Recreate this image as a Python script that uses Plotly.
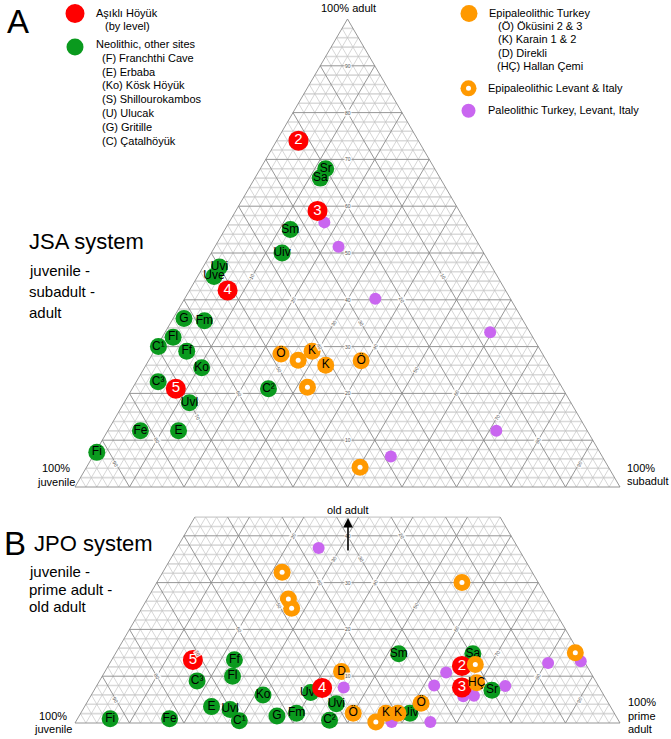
import plotly.graph_objects as go

W, H = 671, 739
FONT = "Liberation Sans, Arial, sans-serif"

RED = "#ff0000"
GREEN = "#0a9a1e"
ORANGE = "#ff9900"
PURPLE = "#c966f0"

# ---------------- Panel A : JSA (juvenile, subadult, adult %) ----------------
A_red_lab = ["2", "3", "4", "5"]
A_red_juv = [22, 26, 51, 71]
A_red_sub = [4, 15, 7, 8]
A_red_adu = [74, 59, 42, 21]

A_grn_lab = ["Sr", "Sa", "Sm", "Uiv", "Uvi", "Uve", "G", "Fm", "Fl", "C¹",
             "Ff", "Ko", "C³", "C²", "Uvl", "Fe", "E", "Fi"]
A_grn_juv = [20, 22, 33, 37, 50, 52, 62, 58.5, 66, 69.7, 65, 64, 73.5, 54, 70, 82, 75, 92.3]
A_grn_sub = [12, 12, 12, 13, 3, 3, 2, 6, 2, 0.3, 6, 10.5, 4, 25, 12, 6, 13, 0.3]
A_grn_adu = [68, 66, 55, 50, 47, 45, 36, 35.5, 32, 30, 29, 25.5, 22.5, 21, 18, 12, 12, 7.4]

A_org_lab = ["Ö", "K", "K", "Ö"]
A_org_juv = [48, 42, 41, 34]
A_org_sub = [23.6, 29, 33, 39]
A_org_adu = [28.4, 29, 26, 27]

A_ring_juv = [45.5, 46.7, 45.6]
A_ring_sub = [27.4, 32, 50.2]
A_ring_adu = [27.1, 21.3, 4.2]

A_pur_juv = [26, 26, 24.8, 7.3, 16.7, 38.8]
A_pur_sub = [17.5, 22.7, 35, 59.7, 71.3, 54.7]
A_pur_adu = [56.6, 51.4, 40.2, 33.1, 12, 6.5]

# ---------------- Panel B : JPO (juvenile, prime adult, old adult %) ----------------
B_red_lab = ["5", "4", "2", "3"]
B_red_juv = [71.7, 50.9, 22.9, 25.2]
B_red_pri = [14.9, 41.6, 64.9, 67.2]
B_red_old = [13.5, 7.5, 12.2, 7.6]

B_grn_lab = ["Ff", "Fl", "C³", "Ko", "Uve", "E", "Uvl", "C¹", "G", "Fm",
             "Fi", "Fe", "C²", "Uvi", "Uiv", "Sm", "Sa", "Sr"]
B_grn_juv = [64, 66.1, 73.1, 62.5, 53.5, 73.2, 70.1, 69.6, 62.2, 58.3, 93.1, 82.2, 53, 50, 37.5, 33.2, 19.6, 20]
B_grn_pri = [22.5, 23.9, 17.9, 31.5, 40, 23.3, 27, 29.9, 36.3, 39.6, 6, 16.9, 46.4, 45.9, 60.4, 52, 65.6, 73]
B_grn_old = [13.5, 10, 9, 6, 6.5, 3.5, 2.9, 0.5, 1.5, 2.1, 0.9, 0.9, 0.6, 4.1, 2.1, 14.8, 14.8, 7]

B_org_lab = ["D", "Ö", "K", "K", "Ö", "HÇ"]
B_org_juv = [45.6, 47.9, 41.9, 39.7, 34.4, 22]
B_org_pri = [43.4, 50, 56, 58.2, 61.4, 69.4]
B_org_old = [11, 2.1, 2.1, 2.1, 4.2, 8.6]

B_ring_juv = [45.9, 47.6, 48, 14, 20.3, 0.7, 44.7]
B_ring_pri = [21.9, 25.9, 27.5, 56, 67.2, 84.3, 55.1]
B_ring_old = [32.2, 26.5, 24.5, 30, 12.5, 15, 0.2]

B_pur_juv = [36.6, 46.9, 41.8, 34.7, 30.1, 26.5, 25.9, 23.9, 17.1, 6.8, 0.6]
B_pur_pri = [26, 45.5, 58, 65.1, 61.9, 62.7, 68.4, 70.3, 75, 80.4, 86.2]
B_pur_old = [37.4, 7.6, 0.2, 0.2, 8, 10.8, 5.7, 5.8, 7.9, 12.8, 13.2]

GRID_STEPS = list(range(0, 101, 2))
TICK_VALUES = [10, 20, 30, 40, 50, 60, 70, 80, 90]
B_TOP_LIMIT = 44  # JPO panel is cut at 44% old adult


def tern(left, right, top):
    xs, ys = [], []
    for l, r, t in zip(left, right, top):
        s = l + r + t
        a = 100.0 * t / s
        b = 100.0 * r / s
        xs.append(b + a / 2.0)
        ys.append(a)
    return xs, ys


fig = go.Figure()


def add_grid(xa, ya, amax):
    groups = {"maj": ([], []), "minh": ([], []), "mind": ([], [])}

    def seg(key, p, q):
        gx, gy = groups[key]
        gx += [p[0], q[0], None]
        gy += [p[1], q[1], None]

    for v in GRID_STEPS:
        major = v % 10 == 0
        if v <= amax and v < 100:
            seg("maj" if major else "minh", (v / 2, v), (100 - v / 2, v))
        if v < 100:
            ae = min(100 - v, amax)
            seg("maj" if major else "mind", (v, 0), (v + ae / 2, ae))
            seg("maj" if major else "mind", (100 - v, 0), (100 - v - ae / 2, ae))
    styles = {"minh": ("#dadada", 1.6), "mind": ("#c4c4c4", 0.7), "maj": ("#8a8a8a", 0.9)}
    for key in ["minh", "mind", "maj"]:
        gx, gy = groups[key]
        col, w = styles[key]
        fig.add_trace(go.Scatter(x=gx, y=gy, mode="lines", line=dict(color=col, width=w),
                                 hoverinfo="skip", showlegend=False, xaxis=xa, yaxis=ya))


def tick_labels(xr, yr, amax):
    anns = []
    for v in TICK_VALUES:
        pos = [
            (50, v, 0),                                  # top-axis value on median
            (v + (100 - v) / 4, (100 - v) / 2, -60),      # right-axis value
            (0.75 * (100 - v), (100 - v) / 2, 60),        # left-axis value
        ]
        for x, y, ang in pos:
            if y <= amax:
                anns.append(dict(x=x, y=y, xref=xr, yref=yr, text=str(v), showarrow=False,
                                 textangle=ang, font=dict(size=5, color="#555", family=FONT),
                                 bgcolor="rgba(255,255,255,0.85)", borderpad=0))
    return anns


def add_points(xa, ya, left, right, top, color, size, labels=None, tcolor="black", tsize=11):
    xs, ys = tern(left, right, top)
    fig.add_trace(go.Scatter(
        x=xs, y=ys, mode="markers+text" if labels else "markers",
        text=labels, textposition="middle center",
        textfont=dict(color=tcolor, size=tsize, family=FONT),
        marker=dict(size=size, color=color, line=dict(width=0)),
        cliponaxis=False, hoverinfo="skip", showlegend=False, xaxis=xa, yaxis=ya))


def add_rings(xa, ya, left, right, top):
    add_points(xa, ya, left, right, top, ORANGE, 17)
    add_points(xa, ya, left, right, top, "white", 5)


# Panel A
add_grid("x", "y", 100)
add_points("x", "y", A_pur_juv, A_pur_sub, A_pur_adu, PURPLE, 12)
add_points("x", "y", A_grn_juv, A_grn_sub, A_grn_adu, GREEN, 17, A_grn_lab, "black", 12)
add_points("x", "y", A_red_juv, A_red_sub, A_red_adu, RED, 20, A_red_lab, "white", 15)
add_rings("x", "y", A_ring_juv, A_ring_sub, A_ring_adu)
add_points("x", "y", A_org_juv, A_org_sub, A_org_adu, ORANGE, 17, A_org_lab, "black", 12)

# Panel B
add_grid("x2", "y2", B_TOP_LIMIT)
add_points("x2", "y2", B_pur_juv, B_pur_pri, B_pur_old, PURPLE, 12)
add_points("x2", "y2", B_grn_juv, B_grn_pri, B_grn_old, GREEN, 17, B_grn_lab, "black", 12)
add_points("x2", "y2", B_red_juv, B_red_pri, B_red_old, RED, 20, B_red_lab, "white", 15)
add_rings("x2", "y2", B_ring_juv, B_ring_pri, B_ring_old)
add_points("x2", "y2", B_org_juv, B_org_pri, B_org_old, ORANGE, 17, B_org_lab, "black", 12)


def px(x):
    return x / W


def py(y):
    return 1 - y / H


def ann(x, y, text, size=11, xanchor="left", align="left", color="black"):
    return dict(x=px(x), y=py(y), xref="paper", yref="paper", text=text, showarrow=False,
                xanchor=xanchor, yanchor="middle", align=align,
                font=dict(size=size, color=color, family=FONT))


annotations = []
annotations += tick_labels("x", "y", 100)
annotations += tick_labels("x2", "y2", B_TOP_LIMIT)

# Panel letters and titles
annotations += [
    ann(5, 21, "A", 33),
    ann(27, 242, "JSA system", 22),
    ann(27, 271, "juvenile -", 15),
    ann(27, 291, "subadult -", 15),
    ann(27, 312, "adult", 15),
    ann(348, 8, "100% adult", 11, xanchor="center"),
    ann(56, 468, "100%", 11, xanchor="center"),
    ann(56, 482, "juvenile", 11, xanchor="center"),
    ann(625, 468, "100%", 11),
    ann(625, 481, "subadult", 11),
    ann(2, 543, "B", 33),
    ann(32, 543, "JPO system", 22),
    ann(27, 571, "juvenile -", 15),
    ann(27, 589, "prime adult -", 15),
    ann(27, 606, "old adult", 15),
    ann(53, 716, "100%", 11, xanchor="center"),
    ann(53, 729, "juvenile", 11, xanchor="center"),
    ann(626, 702, "100%", 11),
    ann(626, 716, "prime", 11),
    ann(626, 729, "adult", 11),
    ann(348, 510, "old adult", 11, xanchor="center"),
]
# arrow for old adult
annotations.append(dict(x=px(348), y=py(518), xref="paper", yref="paper", text="",
                        showarrow=True, arrowhead=2, arrowsize=1.2, arrowwidth=1.6,
                        arrowcolor="black", ax=0, ay=34))

# Legend texts
legend_left = [
    (94, 13, "Aşıklı Höyük"), (103, 26, "(by level)"),
    (94, 44, "Neolithic, other sites"),
    (100, 58.3, "(F) Franchthi Cave"), (100, 72, "(E) Erbaba"), (100, 85.5, "(Ko) Kösk Höyük"),
    (100, 99, "(S) Shillourokambos"), (100, 113, "(U) Ulucak"), (100, 127.3, "(G) Gritille"),
    (100, 141.5, "(C) Çatalhöyük"),
]
legend_right = [
    (487, 12.7, "Epipaleolithic Turkey"),
    (496, 25.7, "(Ö) Öküsini 2 &amp; 3"), (496, 39.3, "(K) Karain 1 &amp; 2"),
    (496, 52.7, "(D) Direkli"), (495, 66, "(HÇ) Hallan Çemi"),
    (486, 87.7, "Epipaleolithic Levant &amp; Italy"),
    (486, 110, "Paleolithic Turkey, Levant, Italy"),
]
for x, y, t in legend_left + legend_right:
    annotations.append(ann(x, y, t, 11))

shapes = []


def circ(cx, cy, d, color):
    r = d / 2
    shapes.append(dict(type="circle", xref="paper", yref="paper",
                       x0=px(cx - r), x1=px(cx + r), y0=py(cy + r), y1=py(cy - r),
                       fillcolor=color, line=dict(width=0)))


circ(75, 13.5, 19, RED)
circ(75, 47, 17, GREEN)
circ(469, 13.5, 17, ORANGE)
circ(468.5, 88.3, 16, ORANGE)
circ(468.5, 88.3, 5, "white")
circ(468.5, 110.7, 14, PURPLE)

# axes: px mapping, base of both triangles 75..620 px
XPX = 5.45
YPX = 4.68
x_range = [-75 / XPX, (W - 75) / XPX]
ax_common = dict(visible=False, showgrid=False, zeroline=False, fixedrange=True)

fig.update_layout(
    width=W, height=H,
    margin=dict(l=0, r=0, t=0, b=0),
    paper_bgcolor="white", plot_bgcolor="white",
    showlegend=False,
    xaxis=dict(domain=[0, 1], range=x_range, anchor="y", **ax_common),
    yaxis=dict(domain=[1 - 497 / H, 1], range=[(487 - 497) / YPX, 487 / YPX], anchor="x", **ax_common),
    xaxis2=dict(domain=[0, 1], range=x_range, anchor="y2", **ax_common),
    yaxis2=dict(domain=[0, 1 - 500 / H], range=[(723 - 739) / YPX, (723 - 500) / YPX], anchor="x2", **ax_common),
    annotations=annotations,
    shapes=shapes,
    font=dict(family=FONT),
)

fig.write_html(
    "out.html",
    config={"displayModeBar": False, "staticPlot": True},
    post_script="document.body.style.margin='0px';document.body.style.overflow='hidden';"
                "document.documentElement.style.overflow='hidden';",
)
